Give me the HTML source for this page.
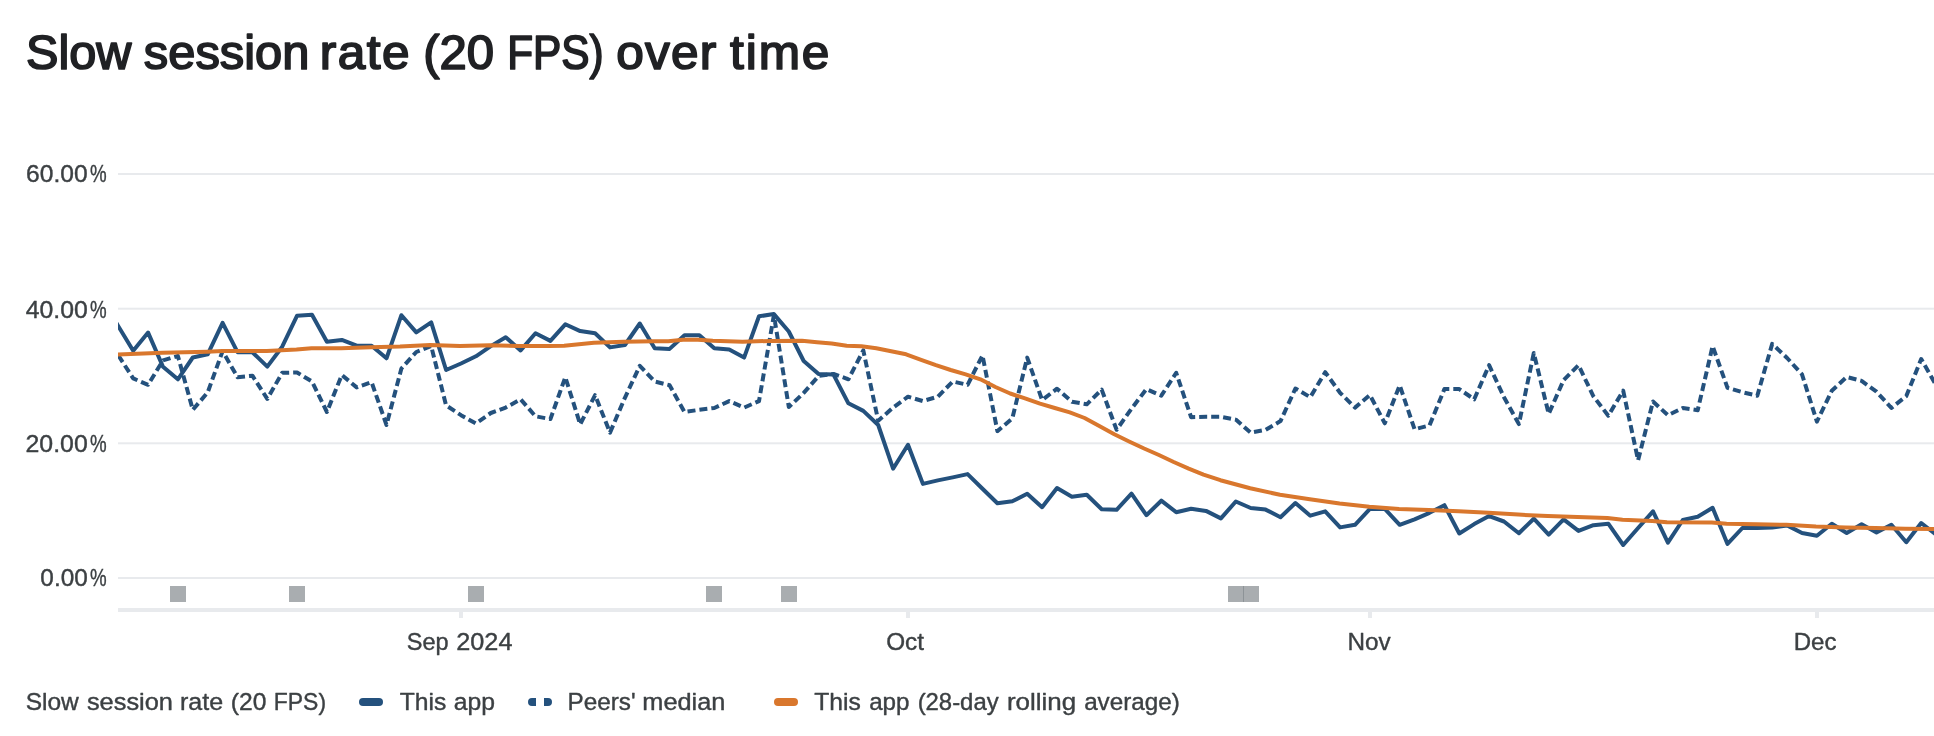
<!DOCTYPE html>
<html lang="en"><head><meta charset="utf-8"><title>Slow session rate (20 FPS) over time</title>
<style>
html,body{margin:0;padding:0;background:#fff;}
body{width:1934px;height:736px;overflow:hidden;}
svg{display:block;will-change:transform;font-family:"Liberation Sans",sans-serif;}
</style></head><body>
<svg width="1934" height="736" viewBox="0 0 1934 736">
<rect width="1934" height="736" fill="#fff"/>
<text x="26.07" y="68.95" font-size="47.7" fill="#202124" stroke="#202124" stroke-width="1.7" stroke-linejoin="round" textLength="105.39" lengthAdjust="spacingAndGlyphs">Slow</text>
<text x="143.83" y="68.95" font-size="47.7" fill="#202124" stroke="#202124" stroke-width="1.7" stroke-linejoin="round" textLength="165.56" lengthAdjust="spacingAndGlyphs">session</text>
<text transform="translate(319.79,68.95) scale(1.04,1)" font-size="47.7" fill="#202124" stroke="#202124" stroke-width="1.7" stroke-linejoin="round" textLength="86.33" lengthAdjust="spacing">rate</text>
<text x="423.22" y="68.95" font-size="47.7" fill="#202124" stroke="#202124" stroke-width="1.7" stroke-linejoin="round" textLength="70.91" lengthAdjust="spacingAndGlyphs">(20</text>
<text x="507.15" y="68.95" font-size="47.7" fill="#202124" stroke="#202124" stroke-width="1.7" stroke-linejoin="round" textLength="96.39" lengthAdjust="spacingAndGlyphs">FPS)</text>
<text transform="translate(616.20,68.95) scale(1.04,1)" font-size="47.7" fill="#202124" stroke="#202124" stroke-width="1.7" stroke-linejoin="round" textLength="96.21" lengthAdjust="spacing">over</text>
<text transform="translate(730.12,68.95) scale(1.04,1)" font-size="47.7" fill="#202124" stroke="#202124" stroke-width="1.7" stroke-linejoin="round" textLength="95.49" lengthAdjust="spacing">time</text>
<rect x="118" y="173.0" width="1816" height="2" fill="#e8eaed"/><rect x="118" y="307.7" width="1816" height="2" fill="#e8eaed"/><rect x="118" y="442.3" width="1816" height="2" fill="#e8eaed"/><rect x="118" y="577.0" width="1816" height="2" fill="#e8eaed"/>
<text y="182.0" font-size="24.3" fill="#3c4043" stroke="#3c4043" stroke-width="0.4" stroke-linejoin="round"><tspan x="26.11" textLength="61.59" lengthAdjust="spacingAndGlyphs">60.00</tspan><tspan x="89.99" textLength="16.65" lengthAdjust="spacingAndGlyphs">%</tspan></text>
<text y="317.75" font-size="24.3" fill="#3c4043" stroke="#3c4043" stroke-width="0.4" stroke-linejoin="round"><tspan x="25.75" textLength="62.07" lengthAdjust="spacingAndGlyphs">40.00</tspan><tspan x="89.99" textLength="16.65" lengthAdjust="spacingAndGlyphs">%</tspan></text>
<text y="452.0" font-size="24.3" fill="#3c4043" stroke="#3c4043" stroke-width="0.4" stroke-linejoin="round"><tspan x="25.56" textLength="62.21" lengthAdjust="spacingAndGlyphs">20.00</tspan><tspan x="89.99" textLength="16.65" lengthAdjust="spacingAndGlyphs">%</tspan></text>
<text y="586.0" font-size="24.3" fill="#3c4043" stroke="#3c4043" stroke-width="0.4" stroke-linejoin="round"><tspan x="40.35" textLength="47.43" lengthAdjust="spacingAndGlyphs">0.00</tspan><tspan x="89.99" textLength="16.65" lengthAdjust="spacingAndGlyphs">%</tspan></text>
<rect x="118" y="608" width="1816" height="4" fill="#e8eaed"/>
<rect x="459" y="612" width="4" height="6" fill="#e8eaed"/><rect x="906" y="612" width="4" height="6" fill="#e8eaed"/><rect x="1368" y="612" width="4" height="6" fill="#e8eaed"/><rect x="1815" y="612" width="4" height="6" fill="#e8eaed"/>
<rect x="170" y="586" width="16" height="16" fill="#80868b" fill-opacity="0.68"/><rect x="289" y="586" width="16" height="16" fill="#80868b" fill-opacity="0.68"/><rect x="468" y="586" width="16" height="16" fill="#80868b" fill-opacity="0.68"/><rect x="706" y="586" width="16" height="16" fill="#80868b" fill-opacity="0.68"/><rect x="781" y="586" width="16" height="16" fill="#80868b" fill-opacity="0.68"/><rect x="1228" y="586" width="16" height="16" fill="#80868b" fill-opacity="0.68"/><rect x="1243" y="586" width="16" height="16" fill="#80868b" fill-opacity="0.68"/>
<clipPath id="plot"><rect x="118" y="120" width="1816" height="480"/></clipPath>
<g fill="none" stroke-width="4" stroke-linejoin="round" clip-path="url(#plot)">
<polyline stroke="#24517d" points="114.3,319.6 118.3,326.2 133.2,350.8 148.1,332.6 163.0,366.8 177.9,379.3 192.8,357.5 207.7,354.3 222.6,322.9 237.5,352.2 252.4,352.2 267.3,366.6 282.2,346.7 297.1,315.7 312.0,314.8 326.9,341.8 341.8,339.9 356.7,345.7 371.6,345.7 386.5,358.3 401.4,315.2 416.3,332.4 431.2,322.4 446.1,370.0 461.0,363.5 475.9,356.3 490.8,346.1 505.7,337.2 520.6,350.4 535.5,333.3 550.4,340.9 565.3,324.3 580.2,331.1 595.1,333.3 610.0,347.4 624.9,345.0 639.8,323.5 654.7,348.3 669.6,348.9 684.5,335.2 699.4,335.2 714.3,348.3 729.2,349.6 744.1,357.6 759.0,316.3 773.9,314.1 788.8,331.5 803.7,361.0 818.6,374.0 833.5,374.6 848.4,403.3 863.3,410.9 878.2,425.0 893.1,468.7 908.0,444.8 922.9,483.9 937.8,480.4 952.7,477.4 967.6,474.1 982.5,488.7 997.4,503.3 1012.3,501.3 1027.2,493.7 1042.1,507.2 1057.0,488.0 1071.9,496.7 1086.8,494.8 1101.7,509.3 1116.6,509.8 1131.5,493.7 1146.4,515.2 1161.3,500.7 1176.2,512.2 1191.1,508.7 1206.0,510.9 1220.9,518.4 1235.8,501.5 1250.7,508.0 1265.6,509.6 1280.5,517.2 1295.4,503.0 1310.3,515.7 1325.2,511.3 1340.1,527.4 1355.0,524.8 1369.9,508.9 1384.8,508.9 1399.7,524.8 1414.6,519.3 1429.5,512.8 1444.4,505.2 1459.3,533.5 1474.2,524.1 1489.1,516.1 1504.0,521.5 1518.9,533.2 1533.8,518.7 1548.7,534.6 1563.6,519.3 1578.5,530.9 1593.4,525.2 1608.3,523.7 1623.2,545.0 1638.1,528.0 1653.0,511.3 1667.9,542.6 1682.8,520.0 1697.7,516.7 1712.6,507.8 1727.5,543.9 1742.4,528.0 1757.3,528.0 1772.2,527.6 1787.1,525.4 1802.0,533.0 1816.9,535.7 1831.8,523.7 1846.7,533.0 1861.6,524.3 1876.5,532.4 1891.4,524.8 1906.3,542.2 1921.2,523.0 1936.1,534.6"/>
<polyline stroke="#24517d" stroke-dasharray="8 4" points="118.3,355.4 133.2,378.4 148.1,384.8 163.0,360.4 177.9,356.0 192.8,409.8 207.7,392.4 222.6,351.1 237.5,377.2 252.4,375.7 267.3,398.9 282.2,372.8 297.1,372.5 312.0,381.5 326.9,412.0 341.8,375.0 356.7,387.4 371.6,382.2 386.5,425.0 401.4,368.5 416.3,352.0 431.2,346.1 446.1,405.4 461.0,415.2 475.9,423.5 490.8,413.0 505.7,407.6 520.6,399.3 535.5,416.3 550.4,419.1 565.3,377.2 580.2,424.3 595.1,395.2 610.0,432.6 624.9,397.8 639.8,365.8 654.7,381.5 669.6,385.2 684.5,412.0 699.4,409.8 714.3,408.0 729.2,401.1 744.1,407.6 759.0,401.1 773.9,315.2 788.8,407.0 803.7,392.9 818.6,376.0 833.5,373.9 848.4,379.3 863.3,350.4 878.2,420.7 893.1,407.6 908.0,396.7 922.9,401.1 937.8,396.7 952.7,381.5 967.6,384.8 982.5,355.4 997.4,431.1 1012.3,418.5 1027.2,357.6 1042.1,400.0 1057.0,388.7 1071.9,401.7 1086.8,404.3 1101.7,389.6 1116.6,429.8 1131.5,408.7 1146.4,389.1 1161.3,395.7 1176.2,372.8 1191.1,417.2 1206.0,416.8 1220.9,416.8 1235.8,419.6 1250.7,432.6 1265.6,429.8 1280.5,421.1 1295.4,388.5 1310.3,397.2 1325.2,372.2 1340.1,392.8 1355.0,407.6 1369.9,395.0 1384.8,423.3 1399.7,385.3 1414.6,429.3 1429.5,425.4 1444.4,389.1 1459.3,389.1 1474.2,399.3 1489.1,365.2 1504.0,397.2 1518.9,424.1 1533.8,353.0 1548.7,413.9 1563.6,380.1 1578.5,365.2 1593.4,396.3 1608.3,415.7 1623.2,390.7 1638.1,460.2 1653.0,401.5 1667.9,415.2 1682.8,408.0 1697.7,410.2 1712.6,346.1 1727.5,387.8 1742.4,392.2 1757.3,395.7 1772.2,343.9 1787.1,358.0 1802.0,374.3 1816.9,421.7 1831.8,390.7 1846.7,377.0 1861.6,380.9 1876.5,391.7 1891.4,408.0 1906.3,396.1 1921.2,359.1 1936.1,385.2"/>
<polyline stroke="#d9772d" stroke-linejoin="round" points="112.0,354.6 118.0,354.4 162.6,352.8 207.2,351.7 222.2,351.1 266.7,351.1 296.5,349.6 311.5,348.3 341.1,348.3 370.9,347.2 400.0,346.5 430.2,345.0 460.0,346.1 489.8,345.2 519.6,346.1 549.3,346.0 564.1,345.7 593.9,342.8 623.7,341.7 653.3,341.3 668.3,341.3 683.0,339.8 698.0,339.8 712.8,340.7 742.6,341.7 772.2,340.9 802.0,340.7 817.0,342.2 831.7,343.5 846.7,345.7 861.5,346.3 876.3,348.3 906.1,354.3 921.1,359.8 935.9,365.2 950.7,370.0 965.7,374.3 980.4,379.3 995.4,387.0 1010.2,393.5 1025.0,398.3 1040.0,403.7 1054.8,408.0 1069.8,412.4 1084.6,418.0 1099.3,426.0 1114.3,434.3 1129.1,441.5 1144.1,448.5 1158.9,455.0 1173.7,462.0 1188.7,468.6 1203.5,474.6 1220.4,480.2 1250.2,488.3 1280.0,494.8 1309.8,499.3 1339.6,503.5 1369.3,506.7 1399.1,509.1 1428.9,510.0 1458.7,511.3 1488.5,512.8 1518.3,514.6 1547.8,516.1 1577.6,517.0 1607.4,518.0 1622.5,519.8 1652.3,520.9 1667.0,522.2 1711.8,522.6 1726.6,523.7 1756.4,524.3 1786.2,524.8 1816.0,526.5 1845.7,527.4 1875.5,528.0 1905.3,528.7 1936.0,529.1"/>
</g>
<text x="406.83" y="649.8" font-size="24.3" fill="#3c4043" stroke="#3c4043" stroke-width="0.4" stroke-linejoin="round" textLength="41.79" lengthAdjust="spacingAndGlyphs">Sep</text>
<text x="456.28" y="649.8" font-size="24.3" fill="#3c4043" stroke="#3c4043" stroke-width="0.4" stroke-linejoin="round" textLength="56.19" lengthAdjust="spacingAndGlyphs">2024</text>
<text x="886.17" y="649.8" font-size="24.3" fill="#3c4043" stroke="#3c4043" stroke-width="0.4" stroke-linejoin="round" textLength="37.82" lengthAdjust="spacingAndGlyphs">Oct</text>
<text x="1347.48" y="649.8" font-size="24.3" fill="#3c4043" stroke="#3c4043" stroke-width="0.4" stroke-linejoin="round" textLength="43.22" lengthAdjust="spacingAndGlyphs">Nov</text>
<text x="1793.70" y="649.8" font-size="24.3" fill="#3c4043" stroke="#3c4043" stroke-width="0.4" stroke-linejoin="round" textLength="42.76" lengthAdjust="spacingAndGlyphs">Dec</text>
<text x="25.68" y="709.8" font-size="24.3" fill="#3c4043" stroke="#3c4043" stroke-width="0.4" stroke-linejoin="round" textLength="53.11" lengthAdjust="spacingAndGlyphs">Slow</text>
<text x="86.95" y="709.8" font-size="24.3" fill="#3c4043" stroke="#3c4043" stroke-width="0.4" stroke-linejoin="round" textLength="85.98" lengthAdjust="spacingAndGlyphs">session</text>
<text x="179.99" y="709.8" font-size="24.3" fill="#3c4043" stroke="#3c4043" stroke-width="0.4" stroke-linejoin="round" textLength="43.15" lengthAdjust="spacingAndGlyphs">rate</text>
<text x="230.79" y="709.8" font-size="24.3" fill="#3c4043" stroke="#3c4043" stroke-width="0.4" stroke-linejoin="round" textLength="35.61" lengthAdjust="spacingAndGlyphs">(20</text>
<text x="273.84" y="709.8" font-size="24.3" fill="#3c4043" stroke="#3c4043" stroke-width="0.4" stroke-linejoin="round" textLength="52.20" lengthAdjust="spacingAndGlyphs">FPS)</text>
<line x1="363" y1="702" x2="379" y2="702" stroke="#24517d" stroke-width="8" stroke-linecap="round"/><text x="399.67" y="709.8" font-size="24.3" fill="#3c4043" stroke="#3c4043" stroke-width="0.4" stroke-linejoin="round" textLength="46.63" lengthAdjust="spacingAndGlyphs">This</text>
<text x="453.85" y="709.8" font-size="24.3" fill="#3c4043" stroke="#3c4043" stroke-width="0.4" stroke-linejoin="round" textLength="41.19" lengthAdjust="spacingAndGlyphs">app</text>
<path d="M536,698 h-4 a4,4 0 0 0 0,8 h4 z M544,698 h4 a4,4 0 0 1 0,8 h-4 z" fill="#24517d"/><text x="567.51" y="709.8" font-size="24.3" fill="#3c4043" stroke="#3c4043" stroke-width="0.4" stroke-linejoin="round" textLength="68.09" lengthAdjust="spacingAndGlyphs">Peers&#39;</text>
<text x="642.29" y="709.8" font-size="24.3" fill="#3c4043" stroke="#3c4043" stroke-width="0.4" stroke-linejoin="round" textLength="83.07" lengthAdjust="spacingAndGlyphs">median</text>
<line x1="778" y1="702" x2="794" y2="702" stroke="#d9772d" stroke-width="8" stroke-linecap="round"/><text x="814.29" y="709.8" font-size="24.3" fill="#3c4043" stroke="#3c4043" stroke-width="0.4" stroke-linejoin="round" textLength="46.62" lengthAdjust="spacingAndGlyphs">This</text>
<text x="869.14" y="709.8" font-size="24.3" fill="#3c4043" stroke="#3c4043" stroke-width="0.4" stroke-linejoin="round" textLength="40.33" lengthAdjust="spacingAndGlyphs">app</text>
<text x="917.64" y="709.8" font-size="24.3" fill="#3c4043" stroke="#3c4043" stroke-width="0.4" stroke-linejoin="round" textLength="81.00" lengthAdjust="spacingAndGlyphs">(28-day</text>
<text x="1006.97" y="709.8" font-size="24.3" fill="#3c4043" stroke="#3c4043" stroke-width="0.4" stroke-linejoin="round" textLength="69.28" lengthAdjust="spacingAndGlyphs">rolling</text>
<text x="1084.14" y="709.8" font-size="24.3" fill="#3c4043" stroke="#3c4043" stroke-width="0.4" stroke-linejoin="round" textLength="95.61" lengthAdjust="spacingAndGlyphs">average)</text>
</svg>
</body></html>
